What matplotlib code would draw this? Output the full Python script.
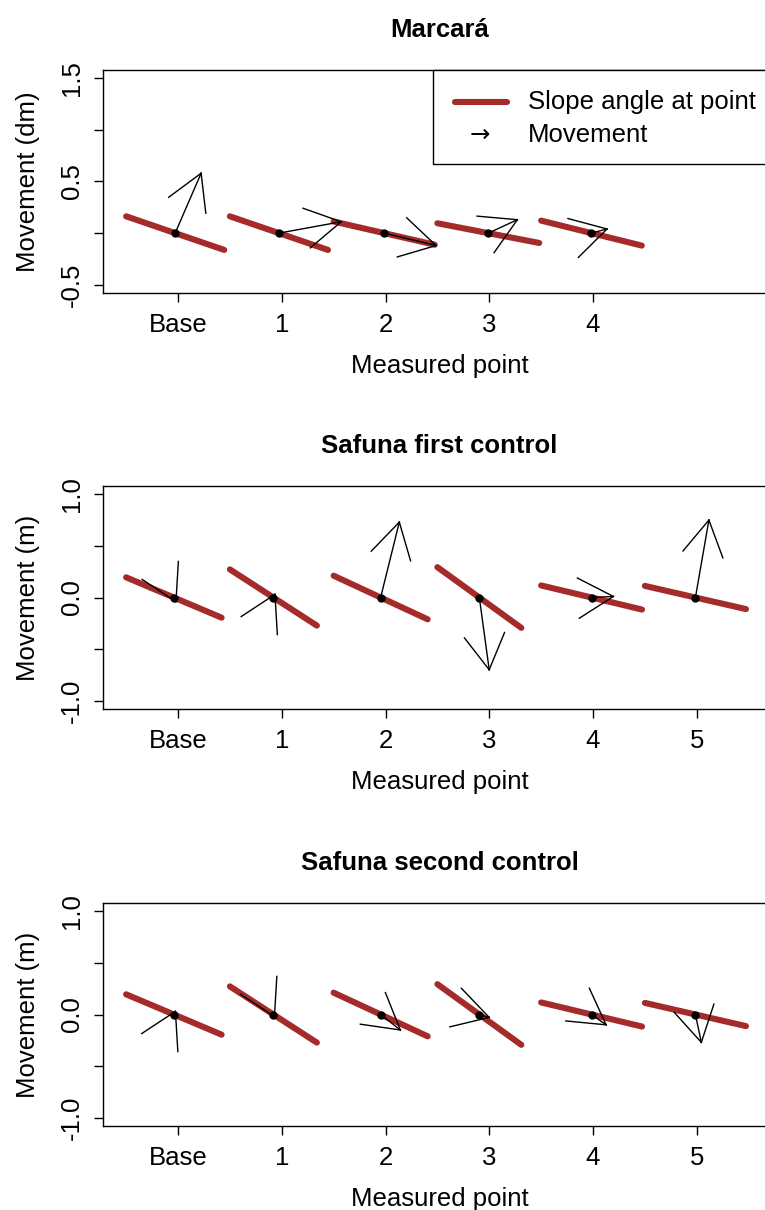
import matplotlib

matplotlib.use("Agg")
import matplotlib.pyplot as plt
import numpy as np
from matplotlib.patches import Rectangle

plt.rcParams["font.family"] = ["Liberation Sans", "DejaVu Sans"]

POINT_LABELS = ["Base", "1", "2", "3", "4", "5"]

# slope angle at each point (degrees, falling to the right)
MARCARA_SLOPE = [19, 19, 13, 11, 14]
SAFUNA_SLOPE = [23, 33, 25, 36, 13.5, 13]

# movement vectors
MARCARA_DX = [0.25, 0.60, 0.50, 0.28, 0.15]
MARCARA_DY = [0.58, 0.11, -0.12, 0.13, 0.04]
FIRST_DX = [0.02, 0.015, 0.18, 0.095, 0.21, 0.13]
FIRST_DY = [-0.04, 0.03, 0.73, -0.70, 0.01, 0.75]
SECOND_DX = [0.015, 0.01, 0.19, 0.095, 0.14, 0.057]
SECOND_DY = [0.03, -0.02, -0.15, -0.028, -0.10, -0.27]

RED = "#A52A2A"
FONT = 18.5
W, H = 765, 1210
LEFT_PX, RIGHT_PX = 103, 776
BASE_PX = 178
XUNIT_PX = 103.75
PANEL_H_PX = 223
HEAD_LEN = 0.39


def draw_panel(ax, slopes, dx, dy, ylim, yticks, ylabels, title, ylabel):
    for i, angle in enumerate(slopes):
        theta = np.radians(angle)
        x0 = i - 0.5
        x1 = x0 + np.cos(theta)
        y0 = 0.5 * np.sin(theta)
        ax.plot([x0, x1], [y0, -y0], color=RED, lw=4.4, solid_capstyle="round", zorder=2)
        cx = (x0 + x1) / 2
        tx, ty = cx + dx[i], dy[i]
        ax.plot([cx, tx], [0, ty], color="black", lw=1.0, zorder=3)
        direction = np.arctan2(dy[i], dx[i])
        for side in (1, -1):
            a = direction + np.pi + side * np.radians(30)
            ax.plot([tx, tx + HEAD_LEN * np.cos(a)], [ty, ty + HEAD_LEN * np.sin(a)],
                    color="black", lw=1.0, zorder=3)
        ax.plot(cx, 0, "o", color="black", ms=5, zorder=4)

    n = len(slopes)
    ax.set_xlim(-(BASE_PX - LEFT_PX) / XUNIT_PX, (RIGHT_PX - BASE_PX) / XUNIT_PX)
    ax.set_ylim(*ylim)
    ax.set_xticks(range(n), labels=POINT_LABELS[:n])
    ax.set_yticks(yticks, labels=ylabels)
    ax.tick_params(axis="both", direction="out", length=6.5, width=1, labelsize=FONT)
    ax.tick_params(axis="x", pad=8)
    ax.tick_params(axis="y", pad=7, labelrotation=90)
    for label in ax.get_yticklabels():
        label.set_va("center")
    for spine in ax.spines.values():
        spine.set_linewidth(1.0)
    ax.set_title(title, fontsize=FONT, fontweight="bold", pad=23.5)
    ax.text(0.5, -73 / PANEL_H_PX, "Measured point", transform=ax.transAxes,
            ha="center", va="center", fontsize=FONT)
    ax.text(-75 / (RIGHT_PX - LEFT_PX), 0.5, ylabel, transform=ax.transAxes,
            ha="center", va="center", rotation=90, fontsize=FONT)


def add_axes(fig, top_px):
    return fig.add_axes([
        LEFT_PX / W,
        1 - (top_px + PANEL_H_PX) / H,
        (RIGHT_PX - LEFT_PX) / W,
        PANEL_H_PX / H,
    ])


def draw_legend(ax):
    width = RIGHT_PX - LEFT_PX
    left = (433 - LEFT_PX) / width
    bottom = 1 - (164 - 70) / PANEL_H_PX
    ax.add_patch(Rectangle((left, bottom), 1.2, 1 - bottom, transform=ax.transAxes,
                           facecolor="white", edgecolor="black", lw=1.0,
                           clip_on=False, zorder=5))
    y1 = 1 - (101.7 - 70) / PANEL_H_PX
    y2 = 1 - (135 - 70) / PANEL_H_PX
    ax.plot([(455 - LEFT_PX) / width, (507 - LEFT_PX) / width], [y1, y1],
            transform=ax.transAxes, color=RED, lw=4.4, solid_capstyle="round",
            clip_on=False, zorder=6)
    ax.text((480 - LEFT_PX) / width, y2, "\u2192", transform=ax.transAxes,
            ha="center", va="center", fontsize=FONT * 0.95,
            family=["DejaVu Sans"], zorder=6)
    text_x = (528 - LEFT_PX) / width
    ax.text(text_x, y1, "Slope angle at point", transform=ax.transAxes,
            ha="left", va="center", fontsize=FONT, zorder=6)
    ax.text(text_x, y2, "Movement", transform=ax.transAxes,
            ha="left", va="center", fontsize=FONT, zorder=6)


fig = plt.figure(figsize=(W / 100, H / 100), dpi=100)

ax1 = add_axes(fig, 70)
draw_panel(ax1, MARCARA_SLOPE, MARCARA_DX, MARCARA_DY, (-0.58, 1.58),
           [-0.5, 0, 0.5, 1.0, 1.5], ["-0.5", "", "0.5", "", "1.5"],
           "Marcará", "Movement (dm)")
draw_legend(ax1)

ax2 = add_axes(fig, 486)
draw_panel(ax2, SAFUNA_SLOPE, FIRST_DX, FIRST_DY, (-1.08, 1.08),
           [-1.0, -0.5, 0, 0.5, 1.0], ["-1.0", "", "0.0", "", "1.0"],
           "Safuna first control", "Movement (m)")

ax3 = add_axes(fig, 903)
draw_panel(ax3, SAFUNA_SLOPE, SECOND_DX, SECOND_DY, (-1.08, 1.08),
           [-1.0, -0.5, 0, 0.5, 1.0], ["-1.0", "", "0.0", "", "1.0"],
           "Safuna second control", "Movement (m)")

fig.savefig("out.png", dpi=100)
